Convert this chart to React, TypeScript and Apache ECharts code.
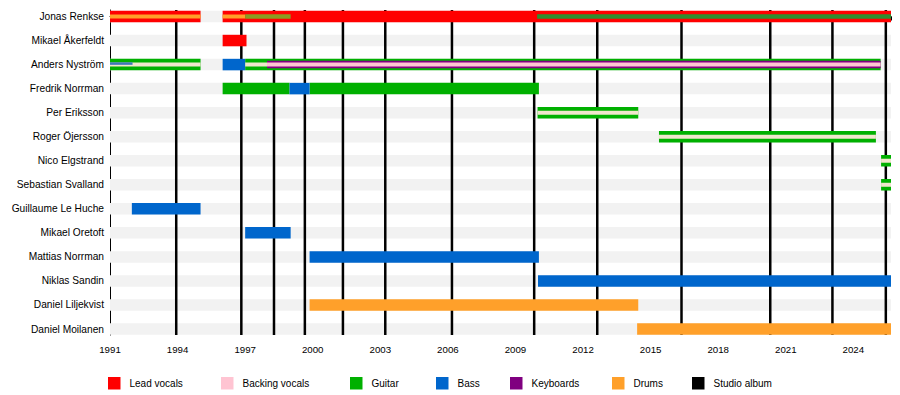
import React, { useEffect, useRef } from "react";
import * as echarts from "echarts";

// ---- data ----
const END = 2025.67;
const members = [
  "Jonas Renkse",
  "Mikael Åkerfeldt",
  "Anders Nyström",
  "Fredrik Norrman",
  "Per Eriksson",
  "Roger Öjersson",
  "Nico Elgstrand",
  "Sebastian Svalland",
  "Guillaume Le Huche",
  "Mikael Oretoft",
  "Mattias Norrman",
  "Niklas Sandin",
  "Daniel Liljekvist",
  "Daniel Moilanen",
];
type Span = [number, number, number]; // [row, start, end]

const leadVocals: Span[] = [[0, 1991, 1995.02], [0, 1996, END], [1, 1996, 1997.06]];
const guitar: Span[] = [
  [2, 1991, 1995.02], [2, 1997, 2025.21], [3, 1996, 1998.97], [3, 1999.86, 2010.04],
  [4, 2009.98, 2014.45], [5, 2015.37, 2025.0], [6, 2025.23, END], [7, 2025.23, END],
];
const bass: Span[] = [
  [2, 1996, 1997], [3, 1998.97, 1999.86], [8, 1991.97, 1995.02], [9, 1997, 1999.02],
  [10, 1999.86, 2010.04], [11, 2010.0, END],
];
const drums: Span[] = [[12, 1999.86, 2014.45], [13, 2014.4, END]];
// secondary roles shown as inner stripes
const drumsStripe: Span[] = [[0, 1991, 1995.02], [0, 1996, 1997]];
const guitarDrumsStripe: Span[] = [[0, 1997, 1999.02]];
const guitarStripe: Span[] = [[0, 2009.96, END]];
const keyboardsStripe: Span[] = [[2, 1997.97, 2025.21]];
const backingVocalsStripe: Span[] = [[2, 1997.97, 2025.21]];
const paleStripe: Span[] = [
  [2, 1991, 1995.02], [2, 1997, 1997.97], [4, 2009.98, 2014.45], [5, 2015.37, 2025.0],
  [6, 2025.23, END], [7, 2025.23, END],
];
const bassStripe: Span[] = [[2, 1991, 1992]];

const studioAlbums = [
  1993.94, 1996.83, 1998.28, 1999.65, 2001.34, 2003.22, 2006.18, 2009.83, 2012.63,
  2016.37, 2020.31, 2023.07, 2025.44,
];
const yearLabels = [1991, 1994, 1997, 2000, 2003, 2006, 2009, 2012, 2015, 2018, 2021, 2024];
const legendNames = ["Lead vocals", "Backing vocals", "Guitar", "Bass", "Keyboards", "Drums", "Studio album"];

// ---- styles ----
const C = {
  red: "#ff0000",
  pink: "#ffc4d2",
  green: "#00b000",
  blue: "#0066cc",
  purple: "#800080",
  orange: "#ffa02a",
  black: "#000000",
};
const legendColors = [C.red, C.pink, C.green, C.blue, C.purple, C.orange, C.black];
const legendLeft = [108, 221, 350, 436, 510, 612, 692];

const LAYERS: { color: string; h: number; dy?: number }[] = [
  { color: "#f2f2f2", h: 11.5 }, // 0 row background
  { color: C.red, h: 11.5 }, // 1
  { color: C.green, h: 11.5 }, // 2
  { color: C.blue, h: 11.5 }, // 3
  { color: C.orange, h: 11.5 }, // 4
  { color: C.orange, h: 4 }, // 5 drums stripe
  { color: "#8a9c22", h: 4.5 }, // 6 guitar+drums stripe
  { color: "#2f8f2f", h: 4.5 }, // 7 guitar stripe
  { color: C.purple, h: 7.5 }, // 8 keyboards stripe
  { color: C.pink, h: 4 }, // 9 backing vocals stripe
  { color: "#f0e6cc", h: 4 }, // 10 pale stripe
  { color: "#3c78b8", h: 2.5, dy: -1 }, // 11 bass stripe
];

const toItems = (spans: Span[], layer: number) => spans.map(([r, s, e]) => [s, e, r, layer]);

const barData = [
  ...toItems(leadVocals, 1),
  ...toItems(guitar, 2),
  ...toItems(bass, 3),
  ...toItems(drums, 4),
  ...toItems(drumsStripe, 5),
  ...toItems(guitarDrumsStripe, 6),
  ...toItems(guitarStripe, 7),
  ...toItems(keyboardsStripe, 8),
  ...toItems(backingVocalsStripe, 9),
  ...toItems(paleStripe, 10),
  ...toItems(bassStripe, 11),
];
const bgData = members.map((_, i) => [1991, END, i, 0]);

const renderBar = (_params: any, api: any) => {
  const st = LAYERS[api.value(3)];
  const a = api.coord([api.value(0), api.value(2)]);
  const b = api.coord([api.value(1), api.value(2)]);
  return {
    type: "rect",
    shape: { x: a[0], y: a[1] - st.h / 2 + (st.dy || 0), width: b[0] - a[0], height: st.h },
    style: { fill: st.color },
  };
};

const renderAlbum = (params: any, api: any) => {
  const x = api.coord([api.value(0), 0])[0];
  const cs = params.coordSys;
  return {
    type: "line",
    shape: { x1: x, y1: cs.y, x2: x, y2: cs.y + cs.height },
    style: { stroke: "#000", lineWidth: 2.5 },
  };
};

const FONT = "'Liberation Sans', Arial, sans-serif";

export default function App() {
  const ref = useRef<HTMLDivElement>(null);
  useEffect(() => {
    if (!ref.current) return;
    const chart = echarts.init(ref.current, undefined, { renderer: "svg" });
    const rowPad = 0.2704;
    chart.setOption({
      animation: false,
      backgroundColor: "#ffffff",
      textStyle: { fontFamily: FONT },
      grid: { left: 110, right: 9, top: 10, bottom: 60 },
      xAxis: {
        type: "value",
        min: 1991,
        max: END,
        interval: 1,
        splitLine: { show: false },
        axisLine: { lineStyle: { color: "#000", width: 1 } },
        axisTick: { length: 4, lineStyle: { color: "#000" } },
        axisLabel: {
          customValues: yearLabels,
          formatter: (v: number) => String(v),
          color: "#000",
          fontSize: 9.7,
          margin: 9,
          fontFamily: FONT,
        },
      },
      yAxis: {
        type: "value",
        inverse: true,
        min: -rowPad,
        max: members.length - 1 + (13.2496 - 13),
        splitLine: { show: false },
        axisLine: { show: true, lineStyle: { color: "#000", width: 1 } },
        axisTick: { show: false },
        axisLabel: {
          customValues: members.map((_, i) => i),
          formatter: (v: number) => members[Math.round(v)] ?? "",
          color: "#000",
          fontSize: 10.2,
          margin: 6,
          fontFamily: FONT,
        },
      },
      legend: legendNames.map((n, i) => ({
        data: [n],
        left: legendLeft[i],
        top: 377,
        itemWidth: 12.5,
        itemHeight: 12.5,
        icon: "rect",
        selectedMode: false,
        padding: 0,
        textStyle: { fontSize: 10, color: "#000", fontFamily: FONT, padding: [0, 0, 0, 4] },
      })),
      series: [
        {
          type: "custom",
          renderItem: renderBar,
          data: bgData,
          encode: { x: [0, 1], y: 2 },
          z: 1,
          silent: true,
        },
        {
          type: "custom",
          name: "Studio album",
          renderItem: renderAlbum,
          data: studioAlbums.map((y) => [y, 0]),
          encode: { x: 0, y: 1 },
          itemStyle: { color: C.black },
          z: 2,
          silent: true,
        },
        {
          type: "custom",
          renderItem: renderBar,
          data: barData,
          encode: { x: [0, 1], y: 2 },
          z: 3,
          silent: true,
        },
        ...legendNames.slice(0, 6).map((n, i) => ({
          type: "custom",
          name: n,
          renderItem: () => null,
          data: [],
          itemStyle: { color: legendColors[i] },
        })),
      ],
    });
    return () => chart.dispose();
  }, []);
  return (
    <div
      ref={ref}
      style={{ position: "fixed", left: 0, top: 0, width: 900, height: 395, background: "#fff" }}
    />
  );
}
